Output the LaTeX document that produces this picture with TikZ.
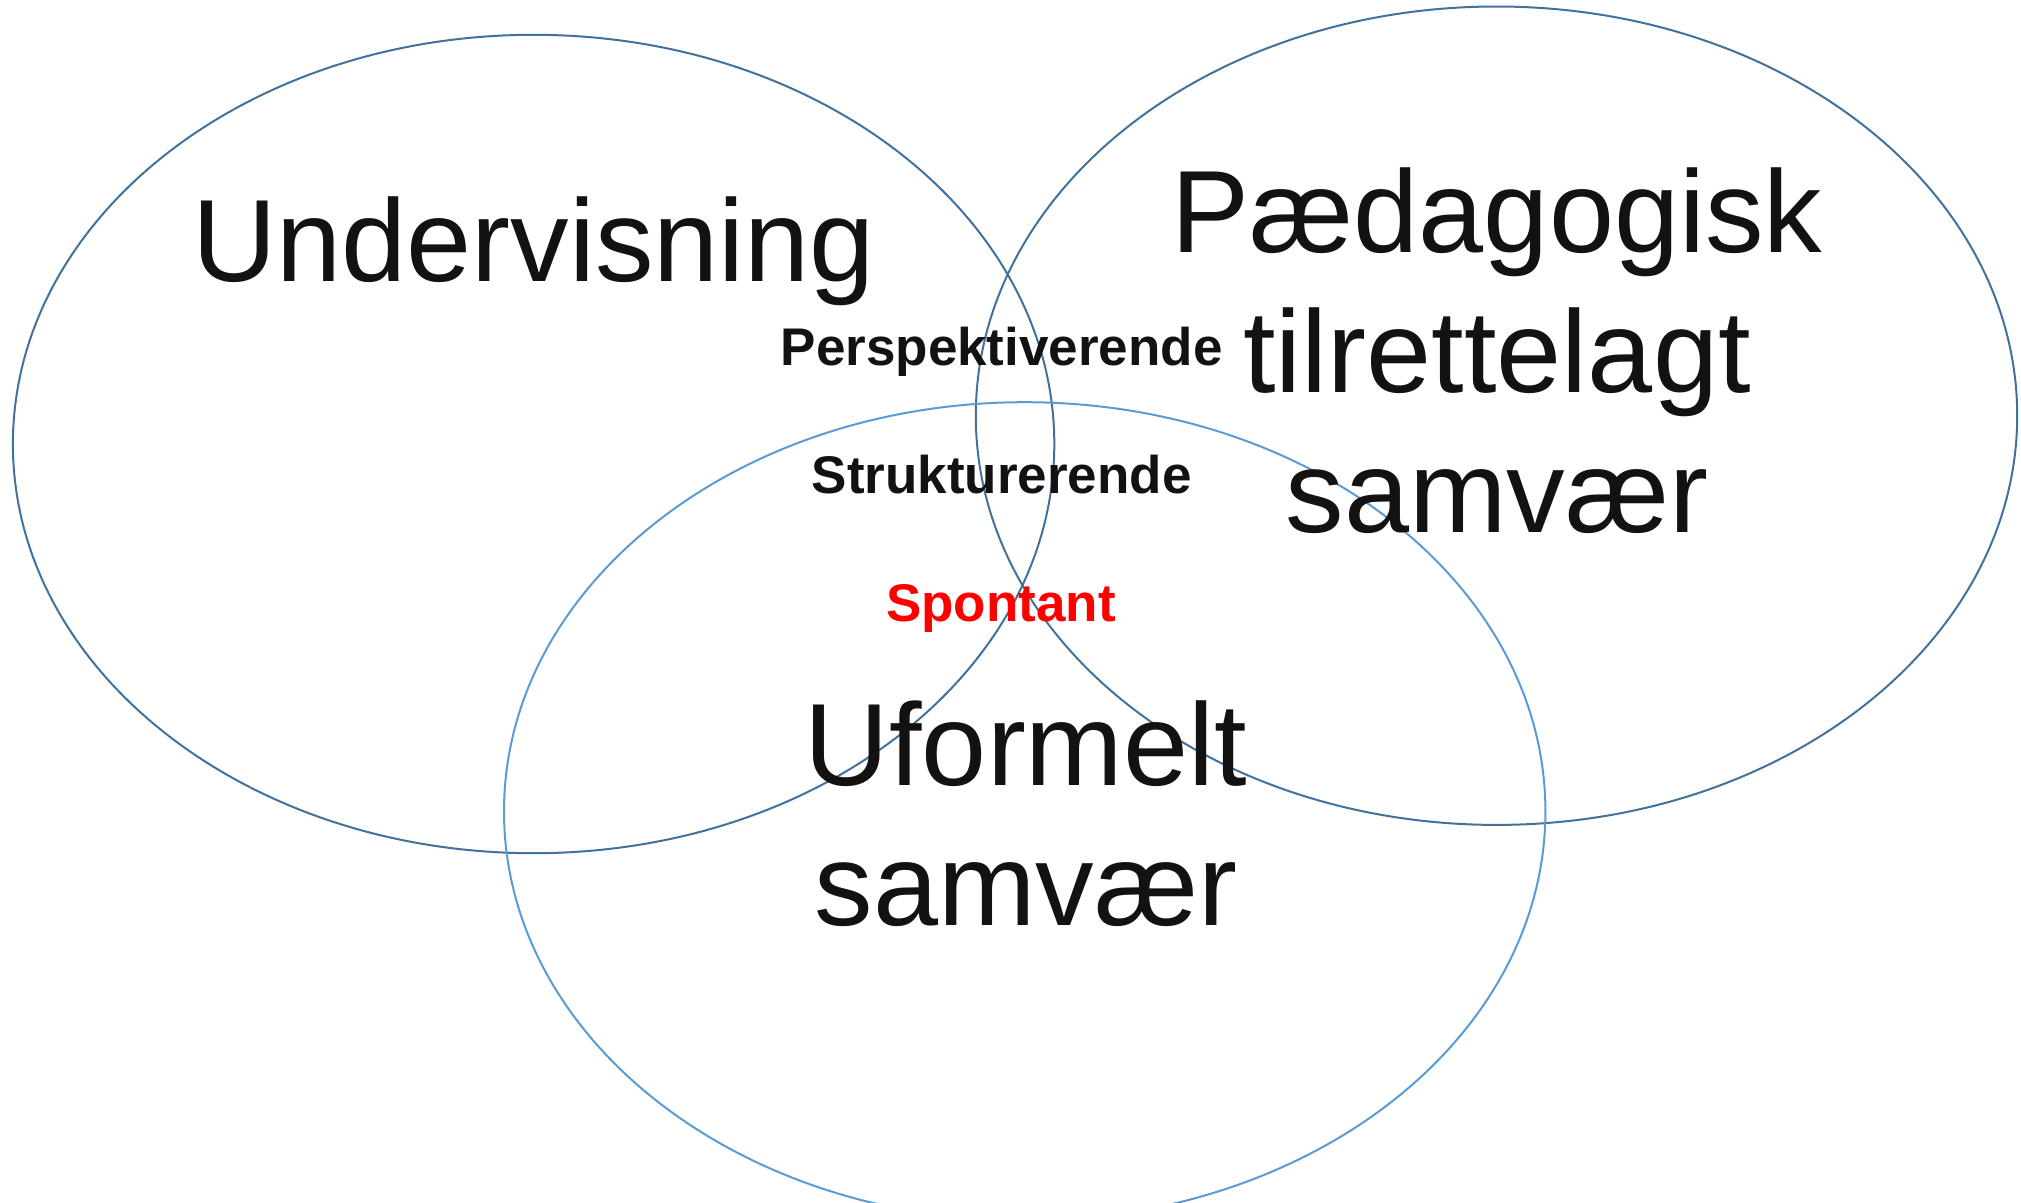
\documentclass[tikz,border=0pt]{standalone}
\usepackage{fontspec}
\setmainfont{Liberation Sans}
\usepackage{xcolor}
\usetikzlibrary{positioning}

\definecolor{ringdark}{HTML}{41719C}
\definecolor{ringlight}{HTML}{5B9BD5}
\definecolor{spontred}{HTML}{FF0000}

\begin{document}
\begin{tikzpicture}[x=1pt, y=1pt,
    ring/.style={line width=2pt},
    bigtext/.style={font=\fontsize{117}{140}\selectfont, align=center, anchor=base, inner sep=0pt, text=black!93},
    smalltext/.style={font=\fontsize{53}{60}\selectfont\bfseries, anchor=base, inner sep=0pt, text=black!93}]
    \useasboundingbox (0,0) rectangle (2021,-1202);

    \draw[ring, ringdark] (533.6,-444) ellipse [x radius=520.7, y radius=409.2];
    \draw[ring, ringdark] (1496.5,-415.7) ellipse [x radius=520.7, y radius=409.2];
    \draw[ring, ringlight] (1024.7,-811.4) ellipse [x radius=520.7, y radius=409.2];

    % multi-line nodes sit on the baseline of their last line
    \node (undervis) [bigtext] at (533.6,-281) {Undervisning};
    \node (paed) [bigtext] at (1497,-532) {Pædagogisk\\tilrettelagt\\samvær};
    \node (uform) [bigtext] at (1026,-925) {Uformelt\\samvær};

    \node (persp) [smalltext] at (1001.7,-365) {Perspektiverende};
    \node (strukt) [smalltext] at (1001.7,-493) {Strukturerende};
    \node (spont) [smalltext, text=spontred] at (1001,-621.7) {Spontant};
\end{tikzpicture}
\end{document}
